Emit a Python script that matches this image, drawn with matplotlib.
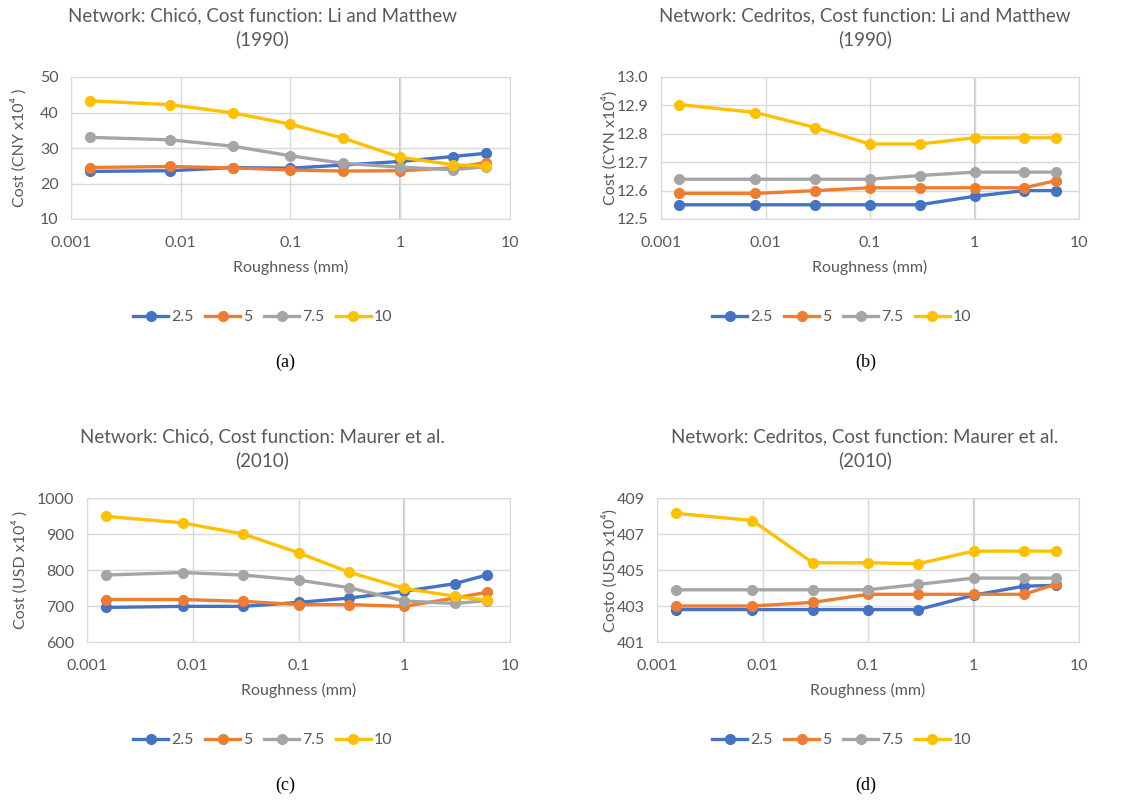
import matplotlib.pyplot as plt
from matplotlib.ticker import FixedLocator, FixedFormatter, NullLocator

plt.rcParams['font.family'] = ['Lato', 'DejaVu Sans']

# roughness values (mm)
roughness = [0.0015, 0.008, 0.03, 0.1, 0.3, 1, 3, 6]
series_names = ['2.5', '5', '7.5', '10']
colors = ['#4472C4', '#ED7D31', '#A5A5A5', '#FFC000']

# (a) Chico, Li and Matthew
chico_li_25 = [23.4, 23.6, 24.5, 24.3, 25.2, 26.2, 27.6, 28.5]
chico_li_5 = [24.5, 24.8, 24.4, 23.8, 23.5, 23.6, 24.4, 25.9]
chico_li_75 = [33.0, 32.3, 30.5, 27.8, 25.7, 24.6, 23.9, 24.7]
chico_li_10 = [43.3, 42.2, 39.9, 36.7, 32.8, 27.4, 25.3, 24.9]

# (b) Cedritos, Li and Matthew
cedritos_li_25 = [12.55, 12.55, 12.55, 12.55, 12.55, 12.58, 12.60, 12.60]
cedritos_li_5 = [12.59, 12.59, 12.60, 12.61, 12.61, 12.61, 12.61, 12.635]
cedritos_li_75 = [12.64, 12.64, 12.64, 12.64, 12.653, 12.665, 12.665, 12.665]
cedritos_li_10 = [12.903, 12.875, 12.822, 12.764, 12.764, 12.786, 12.786, 12.786]

# (c) Chico, Maurer et al.
chico_ma_25 = [696, 699, 699, 710, 722, 741, 762, 786]
chico_ma_5 = [718, 718, 713, 704, 704, 699, 722, 738]
chico_ma_75 = [786, 793, 786, 772, 751, 714, 707, 715]
chico_ma_10 = [949, 931, 900, 848, 794, 749, 727, 716]

# (d) Cedritos, Maurer et al.
cedritos_ma_25 = [402.8, 402.8, 402.8, 402.8, 402.8, 403.6, 404.1, 404.15]
cedritos_ma_5 = [403.0, 403.0, 403.2, 403.65, 403.65, 403.65, 403.65, 404.2]
cedritos_ma_75 = [403.9, 403.9, 403.9, 403.9, 404.2, 404.55, 404.55, 404.55]
cedritos_ma_10 = [408.15, 407.75, 405.4, 405.4, 405.35, 406.05, 406.05, 406.05]

W, H = 1143, 800

# rect in pixels: left, top, right, bottom
panels = [
    dict(data=[chico_li_25, chico_li_5, chico_li_75, chico_li_10],
         px=(71, 77, 510, 219), ylab_x=19, title_x=262, leg_x=263, cap_x=285,
         title='Network: Chicó, Cost function: Li and Matthew\n(1990)',
         ylabel='Cost (CNY x10⁴ )', yticks=[10, 20, 30, 40, 50],
         ylabels=['10', '20', '30', '40', '50'], caption='(a)'),
    dict(data=[cedritos_li_25, cedritos_li_5, cedritos_li_75, cedritos_li_10],
         px=(661, 77, 1079, 219), ylab_x=610, title_x=865, leg_x=842, cap_x=866,
         title='Network: Cedritos, Cost function: Li and Matthew\n(1990)',
         ylabel='Cost (CYN x10⁴)', yticks=[12.5, 12.6, 12.7, 12.8, 12.9, 13.0],
         ylabels=['12.5', '12.6', '12.7', '12.8', '12.9', '13.0'], caption='(b)'),
    dict(data=[chico_ma_25, chico_ma_5, chico_ma_75, chico_ma_10],
         px=(87, 498, 510, 642), ylab_x=20, title_x=262, leg_x=263, cap_x=285,
         title='Network: Chicó, Cost function: Maurer et al.\n(2010)',
         ylabel='Cost (USD x10⁴ )', yticks=[600, 700, 800, 900, 1000],
         ylabels=['600', '700', '800', '900', '1000'], caption='(c)'),
    dict(data=[cedritos_ma_25, cedritos_ma_5, cedritos_ma_75, cedritos_ma_10],
         px=(657, 498, 1079, 642), ylab_x=610, title_x=865, leg_x=842, cap_x=866,
         title='Network: Cedritos, Cost function: Maurer et al.\n(2010)',
         ylabel='Costo (USD x10⁴)', yticks=[401, 403, 405, 407, 409],
         ylabels=['401', '403', '405', '407', '409'], caption='(d)'),
]

fig = plt.figure(figsize=(11.43, 8), dpi=100)
text_col = '#595959'
grid_col = '#D9D9D9'

for p in panels:
    l, t, r, b = p['px']
    ax = fig.add_axes([l / W, 1 - b / H, (r - l) / W, (b - t) / H])
    for vals, name, c in zip(p['data'], series_names, colors):
        ax.plot(roughness, vals, color=c, lw=2.4, marker='o', ms=7, label=name)
    ax.set_xscale('log')
    ax.set_xlim(0.001, 10)
    ax.xaxis.set_major_locator(FixedLocator([0.001, 0.01, 0.1, 1, 10]))
    ax.xaxis.set_major_formatter(FixedFormatter(['0.001', '0.01', '0.1', '1', '10']))
    ax.xaxis.set_minor_locator(NullLocator())
    ax.set_ylim(p['yticks'][0], p['yticks'][-1])
    ax.set_yticks(p['yticks'])
    ax.set_yticklabels(p['ylabels'])
    ax.grid(True, color=grid_col, lw=1)
    ax.set_axisbelow(True)
    ax.axvline(1, color='#BFBFBF', lw=1.3, zorder=0.5)
    for s in ax.spines.values():
        s.set_color(grid_col)
    ax.tick_params(axis='x', length=0, labelsize=11.5, colors=text_col, pad=12)
    ax.tick_params(axis='y', length=0, labelsize=11.5, colors=text_col, pad=9)
    ax.set_ylabel(p['ylabel'], fontsize=11.5, color=text_col)
    ax.yaxis.set_label_coords((p['ylab_x'] + 8 - l) / (r - l), 0.5)
    ax.set_xlabel('Roughness (mm)', fontsize=11.5, color=text_col)
    ax.xaxis.set_label_coords(0.5, -(260 - 219) / (b - t))
    fig.text(p['title_x'] / W, 1 - (t - 49) / H, p['title'], ha='center', va='center',
             fontsize=13.5, color=text_col, linespacing=1.4)
    ax.legend(loc='center', bbox_to_anchor=(p['leg_x'] / W, 1 - (b + 98) / H),
              bbox_transform=fig.transFigure,
              ncol=4, frameon=False, fontsize=11.5, labelcolor=text_col,
              handlelength=2.2, columnspacing=0.7, handletextpad=0.2)
    fig.text(p['cap_x'] / W, 1 - (b + 143) / H, p['caption'], ha='center', va='center',
             fontsize=13, family='Liberation Serif')

fig.savefig('out.png', dpi=100)
